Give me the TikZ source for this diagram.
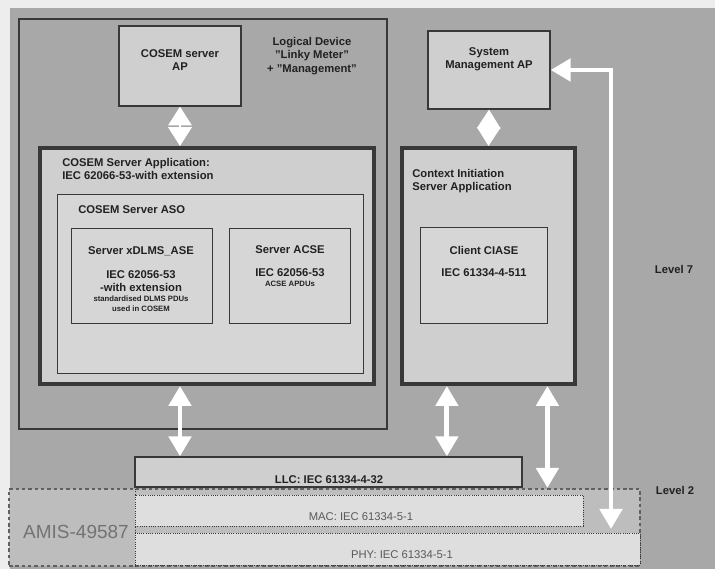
\documentclass[tikz,border=0pt]{standalone}
\usepackage{fontspec}
\setmainfont{Liberation Sans}
\usepackage{xcolor}
\usetikzlibrary{arrows.meta,fit}

\definecolor{paperGray}{gray}{0.93}
\definecolor{bgGray}{gray}{0.66}
\definecolor{boxGray}{gray}{0.81}
\definecolor{innerGray}{gray}{0.84}
\definecolor{layerGray}{gray}{0.87}
\definecolor{lvlGray}{gray}{0.74}
\definecolor{edgeGray}{gray}{0.22}
\definecolor{inkGray}{gray}{0.13}

\tikzset{
  lbl/.style={inner sep=0pt, align=center, text=inkGray,
    font=\bfseries\fontsize{8}{9.5}\selectfont},
  tiny/.style={lbl, font=\bfseries\fontsize{5.5}{7}\selectfont},
  layer/.style={lbl, text=black!65, font=\fontsize{8}{9.5}\selectfont},
  box/.style={draw=edgeGray, fill=boxGray, inner sep=0pt, line width=0.9pt},
  thinbox/.style={box, fill=innerGray, line width=0.6pt},
  thickbox/.style={box, line width=2.8pt},
  dotbox/.style={draw=edgeGray, fill=layerGray, inner sep=0pt,
    line width=0.6pt, densely dotted},
  wArrow/.style={draw=white, line width=3.5pt,
    >={Triangle[width=0.55cm,length=0.5cm]}, <->},
  diaArrow/.style={wArrow, line width=2pt,
    >={Triangle[width=0.58cm,length=0.47cm]}}
}

\begin{document}
\begin{tikzpicture}[x=0.025cm, y=-0.025cm]
     \useasboundingbox (0,0) rectangle (715,569);
     \fill [paperGray] (0,0) rectangle (715,569);
     \fill [bgGray] (10,8) rectangle (715,569);

     % logical device
     \node [box, fill=none, fit={(19,19) (387,429)}] (logDev) {};
     \node [box, fit={(119,26) (241,106)}] (ap) {};
     \node [lbl] (apText) at (180,60) {COSEM server\\AP};
     \node [lbl] (logDevText) at (312,56) {Logical Device\\"Linky Meter"\\+ "Management"};

     \node [thickbox, fit={(40,148) (374,384)}] (srvApp) {};
     \node [lbl, anchor=north west, align=left] (srvAppText) at (62,158)
          {COSEM Server Application:\\IEC 62066-53-with extension};
     \node [thinbox, fit={(57,194) (363,373)}] (aso) {};
     \node [lbl, anchor=west] (asoText) at (78,210) {COSEM Server ASO};

     \node [thinbox, fit={(71,228) (212,323)}] (xdlms) {};
     \node [lbl] (xdlmsText) at (141,251) {Server xDLMS\_ASE};
     \node [lbl] (xdlmsStd) at (141,281) {IEC 62056-53\\-with extension};
     \node [tiny] (xdlmsPdu) at (141,304) {standardised DLMS PDUs\\used in COSEM};

     \node [thinbox, fit={(229,228) (350,323)}] (acse) {};
     \node [lbl] (acseText) at (290,250) {Server ACSE};
     \node [lbl] (acseStd) at (290,273) {IEC 62056-53};
     \node [tiny] (acsePdu) at (290,284) {ACSE APDUs};

     % system management side
     \node [box, fit={(428,31) (550,109)}] (sysMan) {};
     \node [lbl] (sysManText) at (489,59) {System\\Management AP};

     \node [thickbox, fit={(402,148) (575,384)}] (ctxApp) {};
     \node [lbl, anchor=north west, align=left] (ctxAppText) at (412,169)
          {Context Initiation\\Server Application};
     \node [thinbox, fit={(420,227) (547,323)}] (ciase) {};
     \node [lbl] (ciaseText) at (484,250) {Client CIASE};
     \node [lbl] (ciaseStd) at (484,273) {IEC 61334-4-511};

     % lower layers
     \node [box, fit={(135,457) (522,487)}] (llc) {};
     \node [lbl] (llcText) at (329,480) {LLC: IEC 61334-4-32};

     \node [draw=edgeGray!80, fill=lvlGray, inner sep=0pt, line width=1.6pt,
          dash pattern=on 2.5pt off 2pt, fit={(9,489) (640,566)}] (lvlTwo) {};
     \draw [edgeGray, densely dotted, line width=0.7pt] (135,489) -- (135,566);
     \node [dotbox, fit={(135,495) (583,526)}] (mac) {};
     \node [dotbox, fit={(135,533) (640,565)}] (phy) {};
     \node [layer] (macText) at (361,517) {MAC: IEC 61334-5-1};
     \node [layer] (phyText) at (402,555) {PHY: IEC 61334-5-1};
     \node [lbl, text=black!55, font=\fontsize{13.5}{15}\selectfont] (amis) at (76,532) {AMIS-49587};

     \node [lbl] (lvlSeven) at (674,269) {Level 7};
     \node [lbl] (lvlTwoText) at (675,490) {Level 2};

     % arrows
     \coordinate (lvlEnd) at (611,529);
     \draw [diaArrow] (ap.south) -- (ap.south |- srvApp.north);
     \draw [diaArrow] (sysMan.south) -- (ctxApp.north);
     \draw [wArrow] (ap.south |- srvApp.south) -- (ap.south |- llc.north);
     \draw [wArrow] ([xshift=-1.04cm]ctxApp.south) -- ([xshift=-1.04cm]ctxApp.south |- llc.north);
     \draw [wArrow] (ciase.east |- ctxApp.south) -- (ciase.east |- lvlTwo.north);
     \draw [wArrow] (lvlEnd) |- (sysMan.east);
 \end{tikzpicture}
\end{document}
